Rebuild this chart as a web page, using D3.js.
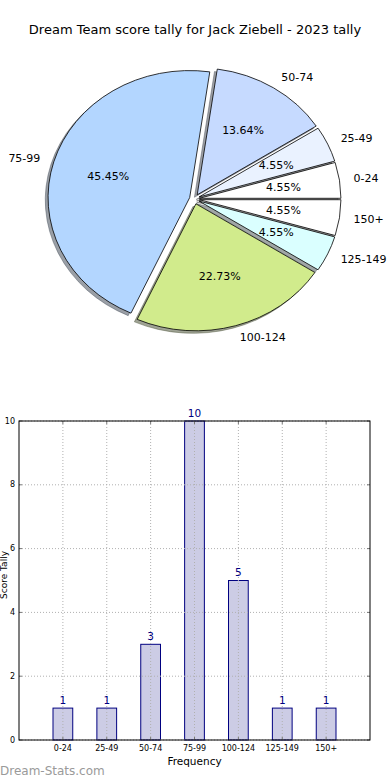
<!DOCTYPE html>
<html><head><meta charset="utf-8">
<script src="https://cdn.jsdelivr.net/npm/d3@7"></script>
<style>body{margin:0;background:#fff;} svg{display:block;font-family:"DejaVu Sans",sans-serif;}</style>
</head><body>
<svg id="c" width="390" height="780"></svg>
<script>
const categories = ["0-24","25-49","50-74","75-99","100-124","125-149","150+"];
const counts = [1,1,3,10,5,1,1];
const yTicks = [0,2,4,6,8,10];
const sliceColors = ["#ffffff","#eaf2ff","#c6daff","#b3d6ff","#d1eb8c","#daffff","#ffffff"];
const titleText = "Dream Team score tally for Jack Ziebell - 2023 tally";
const xLabel = "Frequency";
const yLabel = "Score Tally";
const watermark = "Dream-Stats.com";

const svg = d3.select("#c");
svg.append("text").attr("x",195).attr("y",34).attr("text-anchor","middle")
  .attr("font-size",13).attr("fill","#000").text(titleText);

// ---------- Pie ----------
const cx = 194.5, cy = 199, rx = 141.5, ry = 127, expl = 5;
const total = d3.sum(counts);
const pie = d3.pie().sort(null).startAngle(Math.PI/2).endAngle(Math.PI/2 - 2*Math.PI);
const arcs = pie(counts);
const arc = d3.arc().innerRadius(0).outerRadius(1);
const pieG = svg.append("g");
function off(d){ const a=(d.startAngle+d.endAngle)/2; return [Math.sin(a)*expl, -Math.cos(a)*expl]; }
// shadows
arcs.forEach((d,i)=>{
  const [ox,oy]=off(d);
  const c = d3.rgb(sliceColors[i]);
  const sc = d3.rgb(c.r*0.3,c.g*0.3,c.b*0.3);
  pieG.append("path").attr("d",arc(d))
    .attr("transform",`translate(${cx+ox-2.8},${cy+oy+2.5}) scale(${rx},${ry})`)
    .attr("fill",sc).attr("fill-opacity",0.5).attr("stroke",sc).attr("stroke-opacity",0.5)
    .attr("stroke-width",0.8).attr("vector-effect","non-scaling-stroke");
});
arcs.forEach((d,i)=>{
  const [ox,oy]=off(d);
  pieG.append("path").attr("d",arc(d))
    .attr("transform",`translate(${cx+ox},${cy+oy}) scale(${rx},${ry})`)
    .attr("fill",sliceColors[i]).attr("stroke","#000").attr("stroke-width",0.8)
    .attr("vector-effect","non-scaling-stroke");
});
const pf = d3.format(".2f");
arcs.forEach((d,i)=>{
  const a=(d.startAngle+d.endAngle)/2;
  const [ox,oy]=off(d);
  const lx = cx+ox+1.1*rx*Math.sin(a), ly = cy+oy-1.1*ry*Math.cos(a);
  pieG.append("text").attr("x",lx).attr("y",ly).attr("dominant-baseline","central")
    .attr("text-anchor", Math.sin(a)>0?"start":"end").attr("font-size",11).text(categories[i]);
  const px = cx+ox+0.6*rx*Math.sin(a), py = cy+oy-0.6*ry*Math.cos(a);
  pieG.append("text").attr("x",px).attr("y",py).attr("dominant-baseline","central")
    .attr("text-anchor","middle").attr("font-size",11).text(pf(counts[i]/total*100)+"%");
});

// ---------- Bars ----------
const L=19, R=370, T=421, B=740;
const x = d3.scaleLinear().domain([-1,7]).range([L,R]);
const y = d3.scaleLinear().domain([0,10]).range([B,T]);
const bw = x(0.45)-x(0);
const g = svg.append("g");
g.selectAll("rect.bar").data(counts).enter().append("rect")
  .attr("x",(d,i)=>x(i)-bw/2).attr("y",d=>y(d)).attr("width",bw).attr("height",d=>B-y(d))
  .attr("fill","#ccccE5").attr("stroke","#000080").attr("stroke-width",1);
// grid
categories.forEach((c,i)=>{
  g.append("line").attr("x1",x(i)).attr("x2",x(i)).attr("y1",T).attr("y2",B)
   .attr("stroke","#b0b0b0").attr("stroke-dasharray","1,2");
});
yTicks.forEach(t=>{
  g.append("line").attr("x1",L).attr("x2",R).attr("y1",y(t)).attr("y2",y(t))
   .attr("stroke","#b0b0b0").attr("stroke-dasharray","1,2");
});
// ticks inward
categories.forEach((c,i)=>{
  g.append("line").attr("x1",x(i)).attr("x2",x(i)).attr("y1",B).attr("y2",B-3).attr("stroke","#777");
  g.append("line").attr("x1",x(i)).attr("x2",x(i)).attr("y1",T).attr("y2",T+3).attr("stroke","#777");
});
yTicks.forEach(t=>{
  g.append("line").attr("x1",L).attr("x2",L+3).attr("y1",y(t)).attr("y2",y(t)).attr("stroke","#777");
  g.append("line").attr("x1",R).attr("x2",R-3).attr("y1",y(t)).attr("y2",y(t)).attr("stroke","#777");
});
g.append("rect").attr("x",L).attr("y",T).attr("width",R-L).attr("height",B-T)
  .attr("fill","none").attr("stroke","#000").attr("stroke-width",1);
// tick labels
yTicks.forEach(t=>{
  g.append("text").attr("x",L-4).attr("y",y(t)).attr("dominant-baseline","central")
   .attr("text-anchor","end").attr("font-size",8).text(t);
});
categories.forEach((c,i)=>{
  g.append("text").attr("x",x(i)).attr("y",B+11).attr("text-anchor","middle")
   .attr("font-size",8).text(c);
});
counts.forEach((v,i)=>{
  g.append("text").attr("x",x(i)).attr("y",y(v)-4.5).attr("text-anchor","middle")
   .attr("font-size",10.5).attr("fill","#000080").text(v);
});
g.append("text").attr("x",(L+R)/2).attr("y",765).attr("text-anchor","middle")
  .attr("font-size",10.5).text(xLabel);
g.append("text").attr("transform","translate(7,575) rotate(-90)").attr("text-anchor","middle")
  .attr("font-size",9).text(yLabel);
svg.append("text").attr("x",0).attr("y",775).attr("font-size",12).attr("fill","#9a9a9a").text(watermark);
</script>
</body></html>
